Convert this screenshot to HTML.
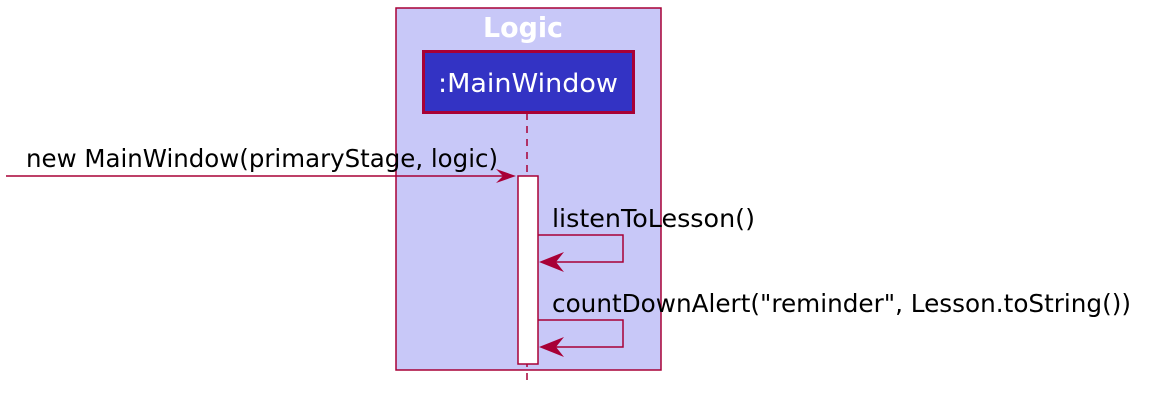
<!DOCTYPE html>
<html><head><style>body{margin:0;background:#fff}</style></head><body>
<svg width="1154" height="404" xmlns="http://www.w3.org/2000/svg" font-family="'DejaVu Sans','Liberation Sans',sans-serif">
<rect x="396" y="8" width="265" height="362" fill="#C8C8F8" stroke="#A80036" stroke-width="1.5"/>
<text x="483" y="37" font-size="28" font-weight="bold" fill="#fff" textLength="80" lengthAdjust="spacingAndGlyphs">Logic</text>
<line x1="527" y1="113" x2="527" y2="385" stroke="#A80036" stroke-width="1.5" stroke-dasharray="7,6"/>
<rect x="423.5" y="51.5" width="210" height="61" fill="#3333C4" stroke="#A80036" stroke-width="3"/>
<text x="438" y="92" font-size="26" fill="#fff" textLength="180" lengthAdjust="spacingAndGlyphs">:MainWindow</text>
<rect x="518" y="176" width="20" height="188" fill="#fff" stroke="#A80036" stroke-width="1.5"/>
<line x1="6" y1="176" x2="512" y2="176" stroke="#A80036" stroke-width="1.5"/>
<polygon points="516,176 496,169 503,176 496,183" fill="#A80036"/>
<text x="26" y="167" font-size="25" fill="#000" textLength="472" lengthAdjust="spacingAndGlyphs">new MainWindow(primaryStage, logic)</text>
<text x="552" y="227" font-size="25" fill="#000" textLength="203" lengthAdjust="spacingAndGlyphs">listenToLesson()</text>
<polyline points="538,235 623,235 623,262 542,262" fill="none" stroke="#A80036" stroke-width="1.5"/>
<polygon points="539,262 564,252 556,262 564,272" fill="#A80036"/>
<text x="552" y="312" font-size="25" fill="#000" textLength="579" lengthAdjust="spacingAndGlyphs">countDownAlert("reminder", Lesson.toString())</text>
<polyline points="538,320 623,320 623,347 542,347" fill="none" stroke="#A80036" stroke-width="1.5"/>
<polygon points="539,347 564,337 556,347 564,357" fill="#A80036"/>
</svg>
</body></html>
